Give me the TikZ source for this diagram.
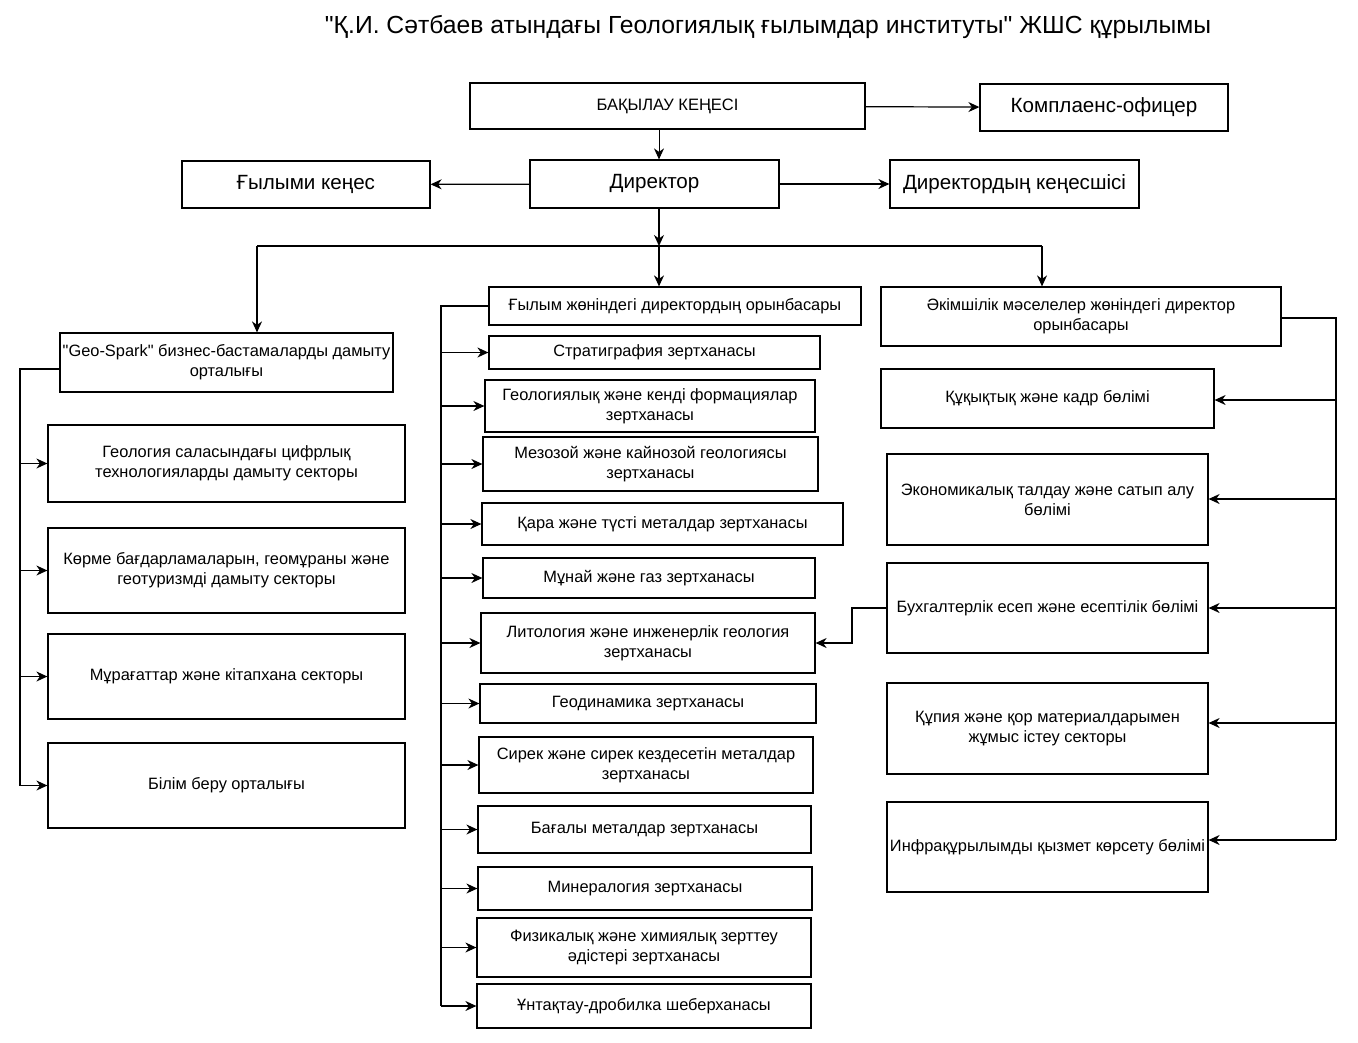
\documentclass[tikz,border=0pt]{standalone}
\usepackage{fontspec}
\setmainfont{Liberation Sans}[Ligatures=TeXOff]
\usetikzlibrary{arrows.meta, positioning, calc}

\begin{document}
\begin{tikzpicture}[
    x=1pt, y=-1pt,
    unit/.style={rectangle, draw, line width=1.2, inner sep=2, align=center, font=\fontsize{16.4}{20}\selectfont},
    bigunit/.style={unit, font=\fontsize{20.6}{24}\selectfont},
    arrow/.style={-{Stealth[length=11, width=10, inset=3.5]}, line width=1.2},
    link/.style={line width=1.2}
]
    \useasboundingbox (0,0) rectangle (1358,1042);

    % Title
    \node [font=\fontsize{24.7}{30}\selectfont] (title) at (768,27) {"Қ.И. Сәтбаев атындағы Геологиялық ғылымдар институты" ЖШС құрылымы};

    % Top level
    \node [unit, font=\fontsize{16.5}{20}\selectfont, minimum width=395, minimum height=46] (board) at (667.5,106) {БАҚЫЛАУ КЕҢЕСІ};
    \node [bigunit, minimum width=248, minimum height=47] (compliance) at (1104,107.5) {Комплаенс-офицер};
    \node [bigunit, minimum width=249, minimum height=48] (director) at (654.5,184) {Директор};
    \node [bigunit, minimum width=248, minimum height=47] (council) at (306,184.5) {Ғылыми кеңес};
    \node [bigunit, minimum width=249, minimum height=48] (advisor) at (1014.5,184) {Директордың кеңесшісі};

    % Deputies
    \node [unit, minimum width=333, minimum height=59] (geospark) at (226.5,362.5) {"Geo-Spark" бизнес-бастамаларды дамыту\\орталығы};
    \node [unit, minimum width=372, minimum height=38] (science) at (675,306) {Ғылым жөніндегі директордың орынбасары};
    \node [unit, minimum width=400, minimum height=59] (admin) at (1081,316.5) {Әкімшілік мәселелер жөніндегі директор\\орынбасары};

    % Geo-Spark sectors
    \node [unit, minimum width=357, minimum height=77] (digital) at (226.5,463.5) {Геология саласындағы цифрлық\\технологияларды дамыту секторы};
    \node [unit, minimum width=357, minimum height=85] (exhibit) at (226.5,570.5) {Көрме бағдарламаларын, геомұраны және\\геотуризмді дамыту секторы};
    \node [unit, minimum width=357, minimum height=85] (archive) at (226.5,676.5) {Мұрағаттар және кітапхана секторы};
    \node [unit, minimum width=357, minimum height=85] (edu) at (226.5,785.5) {Білім беру орталығы};

    % Laboratories
    \node [unit, minimum width=331, minimum height=33] (strat) at (654.5,352.5) {Стратиграфия зертханасы};
    \node [unit, minimum width=330, minimum height=52] (geoform) at (650,406) {Геологиялық және кенді формациялар\\зертханасы};
    \node [unit, minimum width=335, minimum height=54] (mesozoic) at (650.5,464) {Мезозой және кайнозой геологиясы\\зертханасы};
    \node [unit, minimum width=361, minimum height=42] (metals) at (662.5,524) {Қара және түсті металдар зертханасы};
    \node [unit, minimum width=332, minimum height=40] (oilgas) at (649,578) {Мұнай және газ зертханасы};
    \node [unit, minimum width=334, minimum height=60] (litho) at (648,643) {Литология және инженерлік геология\\зертханасы};
    \node [unit, minimum width=336, minimum height=39] (geodyn) at (648,703.5) {Геодинамика зертханасы};
    \node [unit, minimum width=334, minimum height=56] (rare) at (646,765) {Сирек және сирек кездесетін металдар\\зертханасы};
    \node [unit, minimum width=333, minimum height=47] (precious) at (644.5,829.5) {Бағалы металдар зертханасы};
    \node [unit, minimum width=334, minimum height=43] (mineral) at (645,888.5) {Минералогия зертханасы};
    \node [unit, minimum width=334, minimum height=59] (physchem) at (644,947.5) {Физикалық және химиялық зерттеу\\әдістері зертханасы};
    \node [unit, minimum width=334, minimum height=44] (crush) at (644,1006) {Ұнтақтау-дробилка шеберханасы};

    % Administrative departments
    \node [unit, minimum width=333, minimum height=59] (legal) at (1047.5,398.5) {Құқықтық және кадр бөлімі};
    \node [unit, minimum width=321, minimum height=91] (econ) at (1047.5,499.5) {Экономикалық талдау және сатып алу\\бөлімі};
    \node [unit, minimum width=321, minimum height=90] (account) at (1047.5,608) {Бухгалтерлік есеп және есептілік бөлімі};
    \node [unit, minimum width=321, minimum height=91] (secret) at (1047.5,728.5) {Құпия және қор материалдарымен\\жұмыс істеу секторы};
    \node [unit, minimum width=321, minimum height=90] (infra) at (1047.5,847) {Инфрақұрылымды қызмет көрсету бөлімі};

    % Bus points
    \coordinate (spine) at (659,246);
    \coordinate (lbus) at (20,369);
    \coordinate (mbus) at (441,306);
    \coordinate (rbus) at (1336,318);
    \coordinate (ljoin) at (852,608);

    % Connections at the top
    \draw [arrow] (board) -- (compliance);
    \draw [arrow, line width=0.9] (spine |- board.south) -- (spine |- director.north);
    \draw [arrow] (director) -- (council);
    \draw [arrow] (director) -- (advisor);
    \draw [arrow] (spine |- director.south) -- (spine);
    \draw [link] (spine -| 257,0) -- (spine -| 1042,0);
    \draw [arrow] (spine -| 257,0) -- (geospark.north -| 257,0);
    \draw [arrow] (spine) -- (spine |- science.north);
    \draw [arrow] (spine -| 1042,0) -- (admin.north -| 1042,0);

    % Left branch
    \draw [link] (geospark.west |- lbus) -- (lbus) -- (lbus |- edu.west);
    \foreach \n in {digital, exhibit, archive, edu}
        \draw [arrow] (lbus |- \n.west) -- (\n.west);

    % Middle branch
    \draw [link] (science.west) -- (mbus) -- (mbus |- crush.west);
    \foreach \n in {strat, geoform, mesozoic, metals, oilgas, litho, geodyn, rare, precious, mineral, physchem, crush}
        \draw [arrow] (mbus |- \n.west) -- (\n.west);

    % Right branch
    \draw [link] (admin.east |- rbus) -- (rbus) -- (rbus |- 0,840);
    \draw [arrow] (rbus |- 0,400) -- (legal.east |- 0,400);
    \draw [arrow] (rbus |- 0,499) -- (econ.east |- 0,499);
    \draw [arrow] (rbus |- 0,608) -- (account.east |- 0,608);
    \draw [arrow] (rbus |- 0,723) -- (secret.east |- 0,723);
    \draw [arrow] (rbus |- 0,840) -- (infra.east |- 0,840);
    \draw [arrow] (account.west) -- (ljoin) |- (litho.east);
\end{tikzpicture}
\end{document}
